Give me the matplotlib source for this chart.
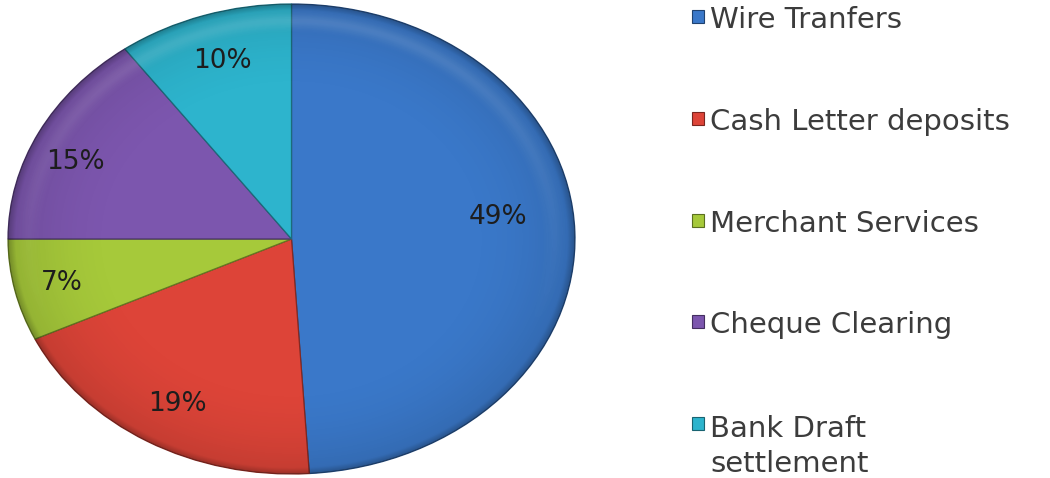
import numpy as np
import matplotlib
matplotlib.use("Agg")
import matplotlib.pyplot as plt
from matplotlib.patches import Rectangle
from matplotlib.colors import to_rgb

# Share of settlement volume by payment channel
categories = ["Wire Tranfers", "Cash Letter deposits", "Merchant Services",
              "Cheque Clearing", "Bank Draft\nsettlement"]
shares = [49, 19, 7, 15, 10]

colors = ["#3a78c9", "#dd4438", "#a6c93a", "#7c56ae", "#2db4cd"]

# label placement (radius, angular nudge in degrees) per slice
label_radius = [0.735, 0.81, 0.83, 0.83, 0.795]
label_nudge = [5.6, 0.7, 0.4, 3.7, -0.1]

W, H, DPI = 1050, 478, 100
fig = plt.figure(figsize=(W / DPI, H / DPI), dpi=DPI)
fig.patch.set_facecolor("white")

# Pie axes: stretched horizontally, so the pie renders as an ellipse
ax = fig.add_axes([8 / W, 4 / H, 567 / W, 470 / H])
wedges, _ = ax.pie(shares, colors=colors, startangle=90, counterclock=False,
                   radius=1.0, wedgeprops=dict(linewidth=0.9, antialiased=True))

for w, c in zip(wedges, colors):
    rgb = np.array(to_rgb(c))
    w.set_edgecolor(tuple(rgb * 0.6))

# Soft shading: slightly darker toward the rim, faint bevel just inside it
n = 500
xs = np.linspace(-1, 1, n)
X, Y = np.meshgrid(xs, xs[::-1])
R = np.sqrt(X ** 2 + Y ** 2)
dark = np.zeros((n, n, 4))
dark[..., 3] = np.clip((R - 0.6) / 0.4, 0, 1) ** 2 * 0.12
dark[..., 3] += np.clip((R - 0.975) / 0.025, 0, 1) * 0.18
light = np.ones((n, n, 4))
band = np.exp(-((R - 0.93) / 0.03) ** 2)
upper = np.clip(0.3 + 0.7 * Y, 0, 1)
light[..., 3] = band * upper * 0.12
for w in wedges:
    for img in (dark, light):
        im = ax.imshow(img, extent=[-1, 1, -1, 1], zorder=2, interpolation="bilinear")
        im.set_clip_path(w)
ax.set_aspect("auto")
ax.set_xlim(-1.0, 1.0)
ax.set_ylim(-1.0, 1.0)
ax.axis("off")

# Percentage labels
for w, s, r, d in zip(wedges, shares, label_radius, label_nudge):
    ang = np.deg2rad((w.theta1 + w.theta2) / 2 + d)
    ax.text(r * np.cos(ang), r * np.sin(ang), f"{s}%", ha="center", va="center",
            fontsize=19, color="#1d1d1d", family="DejaVu Sans", zorder=5)

# Legend (baseline of each entry's first line, in pixels from the top)
row_baseline = [28, 130, 232, 333, 435]
line_gap = 37
for lab, c, yb in zip(categories, colors, row_baseline):
    rgb = np.array(to_rgb(c))
    fig.patches.append(Rectangle((692 / W, 1 - (yb - 5) / H), 12 / W, 13 / H,
                                 transform=fig.transFigure, facecolor=c,
                                 edgecolor=tuple(rgb * 0.55), linewidth=0.8))
    extra = lab.count("\n") * line_gap
    fig.text(710 / W, 1 - (yb + extra) / H, lab, ha="left", va="baseline",
             fontsize=21, color="#3c3c3c", family="DejaVu Sans", linespacing=1.3)

fig.savefig("out.png", dpi=DPI, facecolor="white")
